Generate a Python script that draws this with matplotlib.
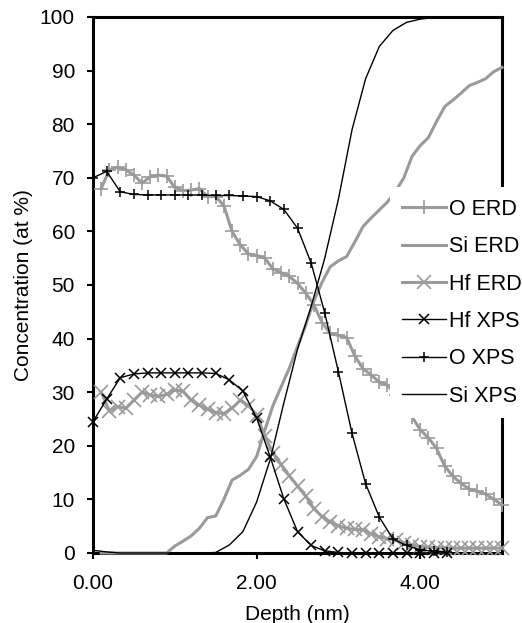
import matplotlib
matplotlib.use("Agg")
import matplotlib.pyplot as plt
from matplotlib.ticker import FormatStrFormatter

plt.rcParams["font.family"] = ["Liberation Sans", "DejaVu Sans"]

# XPS profiles, sampled every 1/6 nm
xps_depth = [0.000, 0.167, 0.333, 0.500, 0.667, 0.833, 1.000, 1.167, 1.333,
             1.500, 1.667, 1.833, 2.000, 2.167, 2.333, 2.500, 2.667, 2.833,
             3.000, 3.167, 3.333, 3.500, 3.667, 3.833, 4.000, 4.167, 4.333]
hf_xps = [24.5, 28.7, 32.7, 33.4, 33.6, 33.6, 33.6, 33.6, 33.6,
          33.5, 32.3, 30.2, 25.2, 17.9, 10.1, 4.0, 1.4, 0.4,
          0.1, 0.0, 0.0, 0.0, 0.0, 0.0, 0.0, 0.0, 0.0]
o_xps = [70.0, 71.2, 67.4, 66.9, 66.8, 66.8, 66.8, 66.8, 66.8,
         66.7, 66.7, 66.6, 66.5, 65.7, 64.1, 60.6, 54.1, 44.8,
         33.8, 22.3, 12.9, 6.7, 2.6, 1.4, 0.6, 0.3, 0.2]
si_xps = [0.5, 0.2, 0.0, 0.0, 0.0, 0.0, 0.0, 0.0, 0.0,
          0.1, 1.5, 4.0, 9.5, 17.5, 28.0, 38.0, 46.0, 55.0,
          66.0, 79.0, 88.5, 94.5, 97.5, 99.0, 99.6, 99.9, 100.0]

# ERD profiles, sampled every 0.1 nm
erd_depth = [0.1, 0.2, 0.3, 0.4, 0.5, 0.6, 0.7, 0.8, 0.9, 1.0,
             1.1, 1.2, 1.3, 1.4, 1.5, 1.6, 1.7, 1.8, 1.9, 2.0,
             2.1, 2.2, 2.3, 2.4, 2.5, 2.6, 2.7, 2.8, 2.9, 3.0,
             3.1, 3.2, 3.3, 3.4, 3.5, 3.6, 3.7, 3.8, 3.9, 4.0,
             4.1, 4.2, 4.3, 4.4, 4.5, 4.6, 4.7, 4.8, 4.9, 5.0]
o_erd = [68.0, 71.5, 72.0, 71.5, 70.5, 69.0, 70.2, 70.5, 70.3, 68.2,
         67.6, 67.7, 68.0, 66.5, 66.5, 64.8, 60.0, 57.5, 55.8, 55.5,
         55.0, 53.0, 52.3, 51.6, 50.3, 48.5, 46.3, 43.0, 41.0, 40.6,
         40.2, 36.8, 34.4, 33.2, 31.9, 31.3, 29.5, 27.5, 25.4, 23.0,
         21.5, 19.5, 16.2, 14.3, 13.0, 11.9, 11.5, 11.0, 10.0, 9.0]
si_erd = [0.0, 0.0, 0.0, 0.0, 0.0, 0.0, 0.0, 0.0, 0.0, 1.3,
          2.2, 3.2, 4.6, 6.6, 6.9, 10.0, 13.6, 14.5, 15.6, 18.0,
          22.9, 27.5, 31.0, 34.5, 38.5, 42.5, 47.0, 50.5, 53.4, 54.5,
          55.3, 58.0, 60.9, 62.5, 64.0, 65.5, 67.5, 70.0, 74.0, 76.0,
          77.5, 80.5, 83.3, 84.5, 85.8, 87.2, 87.8, 88.5, 89.8, 90.6]
hf_erd = [30.0, 26.5, 27.3, 27.0, 28.5, 30.0, 29.5, 29.2, 29.6, 30.4,
          30.2, 28.5, 27.6, 26.8, 26.2, 26.0, 27.0, 28.5, 27.5, 25.8,
          21.8, 18.7, 16.5, 14.4, 12.5, 10.6, 8.3, 6.8, 5.8, 5.1,
          4.6, 4.4, 4.3, 3.6, 3.0, 2.7, 2.4, 1.9, 1.5, 1.2,
          1.1, 1.0, 1.0, 0.9, 0.9, 0.9, 0.9, 0.9, 0.9, 0.9]

GRAY = "#9a9a9a"

fig = plt.figure(figsize=(5.22, 6.23), dpi=100)
ax = fig.add_axes([93 / 522, 1 - 553 / 623, 409 / 522, 536 / 623])

erd_kw = dict(color=GRAY, lw=2.2, ms=9.5, mew=1.2, clip_on=False, zorder=3)
xps_kw = dict(color="black", lw=1.0, mew=1.1, clip_on=False, zorder=4)

ax.plot(erd_depth, o_erd, marker="+", label="O ERD", **erd_kw)
ax.plot(erd_depth, si_erd, label="Si ERD", **erd_kw)
ax.plot(erd_depth, hf_erd, marker="x", label="Hf ERD", **erd_kw)
ax.plot(xps_depth, hf_xps, marker="x", ms=7, label="Hf XPS", **xps_kw)
ax.plot(xps_depth, o_xps, marker="+", ms=7, label="O XPS", **xps_kw)
ax.plot(xps_depth, si_xps, label="Si XPS", **xps_kw)

ax.set_xlim(0, 5)
ax.set_ylim(0, 100)
ax.set_xticks([0, 2, 4])
ax.set_yticks(range(0, 101, 10))
ax.xaxis.set_major_formatter(FormatStrFormatter("%.2f"))

for side in ("left", "right", "top", "bottom"):
    ax.spines[side].set_linewidth(2.2)
    ax.spines[side].set_zorder(2.5)

ax.tick_params(axis="both", direction="out", length=4, width=1.5,
               labelsize=15, pad=9)
ax.tick_params(axis="x", pad=11)

ax.set_xlabel("Depth (nm)", fontsize=15, labelpad=9)
ax.set_ylabel("Concentration (at %)", fontsize=15, labelpad=5)

# white legend box sits over the right edge of the plot and cuts the curves
leg = ax.legend(loc="upper left", bbox_to_anchor=(390 / 522, 1 - 187 / 623),
                bbox_transform=fig.transFigure, fontsize=15.5,
                frameon=True, facecolor="white", edgecolor="none",
                framealpha=1, fancybox=False, borderpad=0.55,
                borderaxespad=0, handlelength=2.05, handletextpad=0.15,
                labelspacing=0.76, numpoints=1)
leg.set_zorder(6)

fig.savefig("out.png", dpi=100, facecolor="white")
